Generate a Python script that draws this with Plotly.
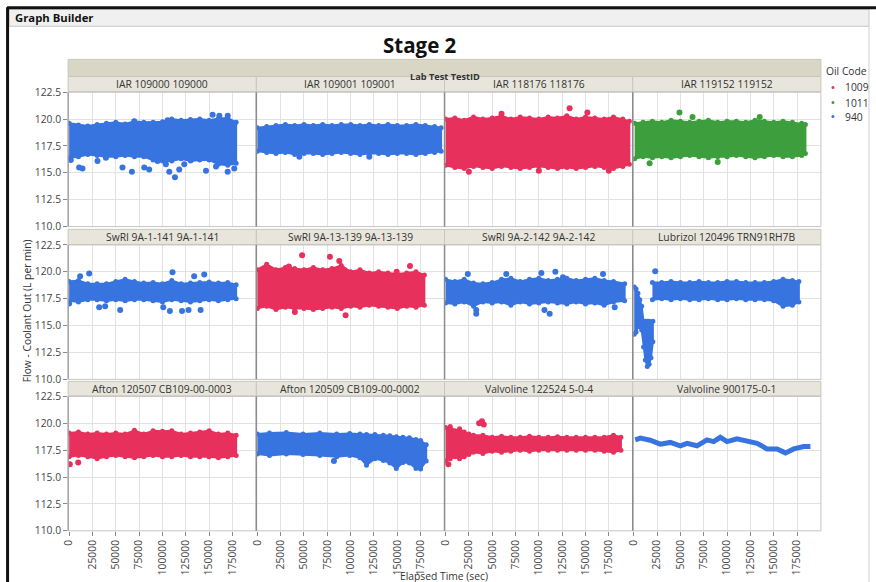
import plotly.graph_objects as go

# Measured behaviour of the viewer: the page has an 8px body margin and the
# captured 884x598 page area is scaled into the 876x582 picture.  The figure is
# sized to fill that area and reference pixel positions are mapped into it.
PAGE_W, PAGE_H = 876, 582
CAP_W, CAP_H = 884, 598
OFF = 8
W, H = CAP_W - OFF, CAP_H - OFF
SX, SY = CAP_W / PAGE_W, CAP_H / PAGE_H
BLUE = "#3874e0"
RED = "#e8305c"
GREEN = "#3d9e3d"
FONT = "Open Sans"

# ---------------- data ----------------
oil_codes = ["1009", "1011", "940"]
oil_colors = [RED, GREEN, BLUE]

panel_titles = [
    "IAR 109000 109000", "IAR 109001 109001", "IAR 118176 118176", "IAR 119152 119152",
    "SwRI 9A-1-141 9A-1-141", "SwRI 9A-13-139 9A-13-139", "SwRI 9A-2-142 9A-2-142", "Lubrizol 120496 TRN91RH7B",
    "Afton 120507 CB109-00-0003", "Afton 120509 CB109-00-0002", "Valvoline 122524 5-0-4", "Valvoline 900175-0-1",
]
panel_oil = ["940", "940", "1009", "1011",
             "940", "1009", "940", "940",
             "1009", "940", "1009", "940"]

y_ticks = [110.0, 112.5, 115.0, 117.5, 120.0, 122.5]
x_ticks = [0, 25000, 50000, 75000, 100000, 125000, 150000, 175000]

# IAR 109000 (band envelope + scattered points)
iar109000_t = [0, 10000, 20000, 30000, 40000, 50000, 60000, 70000, 80000, 90000, 100000, 110000, 120000, 130000, 140000, 150000, 160000, 170000, 179000]
iar109000_hi = [119.6, 119.45, 119.35, 119.5, 119.6, 119.7, 119.55, 119.8, 119.7, 119.7, 119.75, 120.0, 119.9, 119.95, 120.0, 119.9, 120.05, 120.1, 119.7]
iar109000_lo = [116.4, 116.5, 116.7, 116.6, 116.5, 116.5, 116.6, 116.5, 116.5, 116.2, 116.1, 116.1, 116.3, 116.1, 116.2, 116.2, 115.8, 115.7, 115.9]
iar109000_pt_t = [1800, 10700, 14300, 30400, 39400, 57200, 67300, 80500, 85800, 94800, 103700, 107300, 113400, 118000, 123400, 130600, 146700, 157400, 169900, 177000, 153800, 161000, 170000, 105500, 69700]
iar109000_pt_y = [116.2, 115.5, 115.4, 116.1, 116.4, 115.5, 115.1, 115.5, 115.3, 116.1, 115.8, 115.1, 114.6, 115.3, 115.8, 116.2, 115.2, 115.6, 115.1, 115.4, 120.4, 120.3, 120.3, 119.9, 119.8]

# IAR 109001
iar109001_t = [0, 10000, 20000, 30000, 40000, 50000, 60000, 70000, 80000, 90000, 100000, 110000, 120000, 130000, 140000, 150000, 160000, 170000, 180000, 190000, 197000]
iar109001_hi = [119.2, 119.3, 119.4, 119.5, 119.4, 119.5, 119.4, 119.5, 119.4, 119.5, 119.5, 119.4, 119.5, 119.4, 119.5, 119.4, 119.4, 119.5, 119.4, 119.3, 119.2]
iar109001_lo = [117.0, 116.9, 116.8, 116.9, 116.7, 116.8, 116.8, 116.7, 116.8, 116.9, 116.8, 116.7, 116.8, 116.8, 116.7, 116.8, 116.8, 116.7, 116.8, 116.9, 117.0]
iar109001_pt_t = [45000, 120000]
iar109001_pt_y = [116.5, 116.5]

# IAR 118176
iar118176_t = [0, 10000, 20000, 30000, 40000, 50000, 60000, 70000, 80000, 90000, 100000, 110000, 120000, 130000, 140000, 150000, 160000, 170000, 180000, 190000, 197000]
iar118176_hi = [120.0, 120.1, 119.9, 120.2, 120.0, 120.1, 120.3, 120.0, 120.2, 120.1, 120.0, 120.2, 120.1, 120.3, 120.0, 120.2, 120.1, 120.0, 120.2, 120.0, 119.8]
iar118176_lo = [115.7, 115.5, 115.4, 115.6, 115.5, 115.4, 115.6, 115.5, 115.4, 115.5, 115.6, 115.5, 115.4, 115.5, 115.4, 115.5, 115.6, 115.5, 115.4, 115.6, 115.8]
iar118176_pt_t = [133000, 152000, 60000, 25000, 100000, 175000]
iar118176_pt_y = [121.0, 120.6, 120.5, 115.1, 115.2, 115.2]

# IAR 119152
iar119152_t = [1000, 10000, 20000, 30000, 40000, 50000, 60000, 70000, 80000, 90000, 100000, 110000, 120000, 130000, 140000, 150000, 160000, 170000, 180000, 184000]
iar119152_hi = [119.6, 119.7, 119.8, 119.7, 119.9, 119.8, 119.7, 119.8, 119.9, 119.7, 119.8, 119.8, 119.7, 119.9, 119.8, 119.7, 119.8, 119.7, 119.6, 119.5]
iar119152_lo = [116.3, 116.5, 116.4, 116.5, 116.4, 116.5, 116.6, 116.5, 116.4, 116.5, 116.5, 116.6, 116.5, 116.4, 116.5, 116.6, 116.5, 116.5, 116.6, 116.8]
iar119152_pt_t = [49000, 63000, 135000, 17000, 90000]
iar119152_pt_y = [120.6, 120.2, 120.2, 115.9, 116.0]

# SwRI 9A-1-141
swri141_t = [0, 10000, 20000, 30000, 40000, 50000, 60000, 70000, 80000, 90000, 100000, 110000, 120000, 130000, 140000, 150000, 160000, 170000, 179000]
swri141_hi = [119.1, 119.2, 118.9, 118.9, 118.9, 119.1, 119.3, 119.1, 118.95, 119.0, 118.9, 119.2, 118.9, 118.95, 119.0, 119.05, 118.95, 119.0, 118.8]
swri141_lo = [117.3, 117.2, 117.4, 117.4, 117.3, 117.4, 117.3, 117.4, 117.4, 117.3, 117.2, 117.4, 117.3, 117.2, 117.3, 117.4, 117.3, 117.4, 117.5]
swri141_pt_t = [11800, 21500, 110800, 134000, 144800, 0, 32200, 38600, 54700, 100900, 108000, 121000, 128000, 140900]
swri141_pt_y = [119.6, 119.85, 119.95, 119.6, 119.75, 117.05, 116.7, 116.8, 116.45, 116.7, 116.35, 116.35, 116.45, 116.45]

# SwRI 9A-13-139
swri139_t = [0, 10000, 20000, 30000, 40000, 50000, 60000, 70000, 80000, 90000, 100000, 110000, 120000, 130000, 140000, 150000, 160000, 170000, 179000]
swri139_hi = [120.2, 120.7, 120.2, 120.4, 120.3, 120.2, 120.4, 120.2, 120.3, 120.6, 120.0, 120.2, 119.9, 120.0, 119.9, 119.8, 119.9, 120.0, 119.7]
swri139_lo = [116.6, 116.8, 116.5, 116.7, 116.6, 116.6, 116.5, 116.6, 116.7, 116.6, 116.8, 116.7, 116.9, 116.8, 116.7, 116.6, 116.8, 116.7, 116.9]
swri139_pt_t = [48000, 77800, 87800, 163600, 149300, 33800, 40200, 94600]
swri139_pt_y = [121.55, 121.4, 121.0, 120.55, 120.0, 120.5, 116.27, 115.97]

# SwRI 9A-2-142
swri142_t = [0, 10000, 20000, 30000, 40000, 50000, 60000, 70000, 80000, 90000, 100000, 110000, 120000, 130000, 140000, 150000, 160000, 170000, 180000, 192000]
swri142_hi = [119.3, 119.1, 119.3, 118.95, 118.9, 119.0, 119.3, 119.4, 119.1, 119.3, 119.4, 119.2, 119.3, 119.4, 119.2, 119.3, 119.4, 119.2, 119.1, 118.9]
swri142_lo = [117.1, 117.0, 117.2, 116.8, 117.2, 117.1, 117.2, 116.9, 117.2, 117.0, 117.1, 117.2, 117.1, 117.0, 117.2, 117.0, 117.1, 116.9, 117.2, 117.3]
swri142_pt_t = [23900, 65100, 102700, 117700, 125900, 168800, 32900, 32900, 111600, 106000, 181300]
swri142_pt_y = [119.8, 119.8, 119.9, 120.0, 119.5, 119.8, 116.45, 116.1, 116.1, 116.45, 116.7]

# Lubrizol 120496 TRN91RH7B (start-up excursion + steady band)
lubrizol_start_t = [500, 2500, 4500, 6500, 8500, 10500, 12500, 14500, 16500, 18500, 20500]
lubrizol_start_hi = [118.6, 118.4, 118.0, 117.4, 116.8, 115.4, 115.4, 115.4, 115.4, 115.3, 115.4]
lubrizol_start_lo = [114.2, 114.4, 114.9, 114.9, 114.6, 113.0, 111.8, 111.2, 111.4, 112.0, 113.5]
lubrizol_t = [20000, 30000, 40000, 50000, 60000, 70000, 80000, 90000, 100000, 110000, 120000, 130000, 140000, 150000, 160000, 170000, 177000]
lubrizol_hi = [119.0, 119.0, 119.1, 119.0, 119.0, 119.1, 119.0, 119.0, 119.1, 119.1, 119.0, 119.0, 119.0, 119.1, 119.3, 119.2, 119.1]
lubrizol_lo = [117.4, 117.5, 117.4, 117.5, 117.4, 117.4, 117.5, 117.4, 117.4, 117.5, 117.4, 117.4, 117.4, 117.3, 116.8, 116.9, 117.2]
lubrizol_pt_t = [23000]
lubrizol_pt_y = [120.05]

# Afton 120507
afton507_t = [0, 10000, 20000, 30000, 40000, 50000, 60000, 70000, 80000, 90000, 100000, 110000, 120000, 130000, 140000, 150000, 160000, 170000, 179000]
afton507_hi = [119.1, 119.2, 119.0, 119.1, 119.0, 119.1, 119.0, 119.35, 119.0, 119.3, 119.25, 119.3, 119.0, 119.1, 119.2, 119.3, 119.0, 119.1, 118.9]
afton507_lo = [116.9, 117.0, 116.9, 116.7, 116.9, 117.0, 116.9, 116.8, 116.9, 117.0, 116.9, 116.9, 117.0, 116.9, 116.9, 116.9, 116.8, 116.9, 117.0]
afton507_pt_t = [700, 9700]
afton507_pt_y = [116.2, 116.35]

# Afton 120509
afton509_t = [0, 13000, 31000, 49000, 67000, 85000, 99000, 110000, 117000, 126000, 135000, 142000, 149000, 156000, 163000, 170000, 175000, 181000]
afton509_hi = [119.0, 119.1, 119.15, 119.0, 119.1, 119.0, 119.05, 119.0, 118.95, 118.95, 118.9, 118.85, 118.75, 118.7, 118.65, 118.5, 118.4, 118.0]
afton509_lo = [117.15, 117.0, 117.15, 117.1, 117.0, 116.9, 117.0, 116.8, 116.1, 116.7, 116.55, 116.3, 115.8, 116.35, 116.3, 115.8, 115.75, 116.5]
afton509_pt_t = [82100]
afton509_pt_y = [116.5]

# Valvoline 122524
valv122524_t = [0, 5000, 10000, 15000, 20000, 25000, 30000, 40000, 50000, 60000, 70000, 80000, 90000, 100000, 110000, 120000, 130000, 140000, 150000, 160000, 170000, 180000, 188000]
valv122524_hi = [119.6, 119.7, 119.3, 119.5, 119.2, 119.0, 118.9, 118.9, 118.7, 118.8, 118.7, 118.7, 118.8, 118.7, 118.7, 118.75, 118.7, 118.7, 118.7, 118.7, 118.7, 118.9, 118.7]
valv122524_lo = [116.5, 116.7, 116.9, 116.7, 116.9, 117.1, 117.3, 117.2, 117.4, 117.3, 117.4, 117.5, 117.4, 117.5, 117.5, 117.5, 117.5, 117.5, 117.5, 117.5, 117.4, 117.3, 117.5]
valv122524_pt_t = [39000, 41000, 36000, 3000]
valv122524_pt_y = [120.2, 119.9, 120.0, 116.2]

# Valvoline 900175 (smooth trace)
valv900175_t = [1600, 7000, 17700, 28400, 39200, 49900, 57100, 67800, 78500, 85600, 92800, 100000, 110700, 121400, 132200, 142900, 153600, 162600, 171500, 182200, 189400]
valv900175_y = [118.47, 118.62, 118.43, 118.06, 118.22, 117.91, 118.13, 117.91, 118.46, 118.3, 118.7, 118.3, 118.55, 118.33, 118.13, 117.62, 117.62, 117.25, 117.62, 117.84, 117.84]

bands = [
    [(iar109000_t, iar109000_hi, iar109000_lo)],
    [(iar109001_t, iar109001_hi, iar109001_lo)],
    [(iar118176_t, iar118176_hi, iar118176_lo)],
    [(iar119152_t, iar119152_hi, iar119152_lo)],
    [(swri141_t, swri141_hi, swri141_lo)],
    [(swri139_t, swri139_hi, swri139_lo)],
    [(swri142_t, swri142_hi, swri142_lo)],
    [(lubrizol_start_t, lubrizol_start_hi, lubrizol_start_lo), (lubrizol_t, lubrizol_hi, lubrizol_lo)],
    [(afton507_t, afton507_hi, afton507_lo)],
    [(afton509_t, afton509_hi, afton509_lo)],
    [(valv122524_t, valv122524_hi, valv122524_lo)],
    [],
]
points = [
    (iar109000_pt_t, iar109000_pt_y), (iar109001_pt_t, iar109001_pt_y),
    (iar118176_pt_t, iar118176_pt_y), (iar119152_pt_t, iar119152_pt_y),
    (swri141_pt_t, swri141_pt_y), (swri139_pt_t, swri139_pt_y),
    (swri142_pt_t, swri142_pt_y), (lubrizol_pt_t, lubrizol_pt_y),
    (afton507_pt_t, afton507_pt_y), (afton509_pt_t, afton509_pt_y),
    (valv122524_pt_t, valv122524_pt_y), ([], []),
]

# ---------------- layout geometry (reference pixels) ----------------
col_l = [69, 257, 445, 633]
col_r = [257, 445, 633, 821]
row_t = [92.7, 245, 396]
row_b = [226.7, 379, 530]
strip_t = [77, 229.5, 381]
XPX = 25000 / 23.3  # seconds per reference pixel


def px(xp):
    return (xp * SX - OFF) / W


def py(yp):
    return 1 - (yp * SY - OFF) / H


def fs(size):
    return round(size * SY, 1)


color_of = dict(zip(oil_codes, oil_colors))

fig = go.Figure()
layout = dict(
    width=W, height=H, margin=dict(l=0, r=0, t=0, b=0), autosize=False,
    paper_bgcolor="white", plot_bgcolor="white", showlegend=False,
    font=dict(family=FONT, size=fs(10), color="#333333"),
)
shapes = []
annotations = []

for i in range(12):
    r, c = divmod(i, 4)
    k = i + 1
    xa = "xaxis" if k == 1 else f"xaxis{k}"
    ya = "yaxis" if k == 1 else f"yaxis{k}"
    xref = "x" if k == 1 else f"x{k}"
    yref = "y" if k == 1 else f"y{k}"
    width_px = col_r[c] - col_l[c]
    layout[xa] = dict(
        domain=[px(col_l[c]), px(col_r[c])], anchor=yref,
        range=[-1 * XPX, (width_px - 1) * XPX],
        tickmode="array", tickvals=x_ticks,
        ticktext=[str(v) for v in x_ticks] if r == 2 else [""] * len(x_ticks),
        showticklabels=(r == 2), tickangle=-90,
        ticks="outside" if r == 2 else "", ticklen=4, tickcolor="#888888",
        showgrid=True, gridcolor="#e2e2e2", gridwidth=1, zeroline=False,
        showline=False, tickfont=dict(size=fs(10), color="#444444", family=FONT),
    )
    layout[ya] = dict(
        domain=[py(row_b[r]), py(row_t[r])], anchor=xref,
        range=[110, 122.5], tickmode="array", tickvals=y_ticks,
        ticktext=[f"{v:.1f}" for v in y_ticks],
        showticklabels=(c == 0), ticks="outside" if c == 0 else "",
        ticklen=4, tickcolor="#888888",
        showgrid=True, gridcolor="#e2e2e2", gridwidth=1, zeroline=False,
        showline=False, tickfont=dict(size=fs(10), color="#444444", family=FONT),
    )
    col = color_of[panel_oil[i]]
    for (t, hi, lo) in bands[i]:
        fig.add_trace(go.Scatter(
            x=list(t) + list(t)[::-1], y=list(hi) + list(lo)[::-1],
            mode="lines+markers", fill="toself", fillcolor=col,
            line=dict(color=col, width=2),
            marker=dict(color=col, size=5, line=dict(width=0)),
            xaxis=xref, yaxis=yref, hoverinfo="skip"))
    pt_t, pt_y = points[i]
    if pt_t:
        fig.add_trace(go.Scatter(
            x=pt_t, y=pt_y, mode="markers",
            marker=dict(color=col, size=6, line=dict(width=0)),
            xaxis=xref, yaxis=yref, hoverinfo="skip"))
    if i == 11:
        fig.add_trace(go.Scatter(
            x=valv900175_t, y=valv900175_y, mode="lines",
            line=dict(color=col, width=5), xaxis=xref, yaxis=yref,
            hoverinfo="skip"))

    # panel frame
    shapes.append(dict(type="rect", xref="paper", yref="paper",
                       x0=px(col_l[c]), x1=px(col_r[c]), y0=py(row_b[r]), y1=py(row_t[r]),
                       line=dict(color="#c4c4c4", width=1), fillcolor="rgba(0,0,0,0)", layer="above"))
    # strip header
    shapes.append(dict(type="rect", xref="paper", yref="paper",
                       x0=px(col_l[c]), x1=px(col_r[c]), y0=py(row_t[r] - 0.5), y1=py(strip_t[r]),
                       line=dict(color="#c8c6bc", width=1), fillcolor="#e8e6dc", layer="below"))
    annotations.append(dict(text=panel_titles[i], xref="paper", yref="paper",
                            x=px((col_l[c] + col_r[c]) / 2), y=py((strip_t[r] + row_t[r]) / 2),
                            showarrow=False, xanchor="center", yanchor="middle",
                            font=dict(size=fs(10), color="#333333", family=FONT)))

# darker column dividers
for c in (1, 2, 3):
    for r in range(3):
        shapes.append(dict(type="line", xref="paper", yref="paper",
                           x0=px(col_l[c]), x1=px(col_l[c]), y0=py(row_b[r]), y1=py(row_t[r]),
                           line=dict(color="#8c8c8c", width=1.5), layer="above"))
# left axis line
for r in range(3):
    shapes.append(dict(type="line", xref="paper", yref="paper",
                       x0=px(col_l[0]), x1=px(col_l[0]), y0=py(row_b[r]), y1=py(row_t[r]),
                       line=dict(color="#8c8c8c", width=1), layer="above"))

# Lab Test TestID band
shapes.append(dict(type="rect", xref="paper", yref="paper",
                   x0=px(69), x1=px(821), y0=py(77), y1=py(60),
                   line=dict(color="#c8c6bc", width=1), fillcolor="#d9d6c6", layer="below"))
annotations.append(dict(text="<b>Lab Test TestID</b>", xref="paper", yref="paper",
                        x=px(445), y=py(68.5), showarrow=False,
                        font=dict(size=fs(9), color="#333333", family=FONT)))

# window chrome: Graph Builder bar + frame
shapes.append(dict(type="rect", xref="paper", yref="paper",
                   x0=px(10), x1=px(869), y0=py(27), y1=py(10),
                   line=dict(color="#c8c8c8", width=1), fillcolor="#f0f0f0", layer="below"))
shapes.append(dict(type="line", xref="paper", yref="paper",
                   x0=px(8), x1=px(876), y0=py(8.5), y1=py(8.5),
                   line=dict(color="#111111", width=3)))
shapes.append(dict(type="line", xref="paper", yref="paper",
                   x0=px(8.5), x1=px(8.5), y0=py(8), y1=py(582),
                   line=dict(color="#111111", width=3)))
shapes.append(dict(type="line", xref="paper", yref="paper",
                   x0=px(869), x1=px(869), y0=py(27), y1=py(582),
                   line=dict(color="#d0d0d0", width=1)))
annotations.append(dict(text="<b>Graph Builder</b>", xref="paper", yref="paper",
                        x=px(14), y=py(18.5), xanchor="left", yanchor="middle", showarrow=False,
                        font=dict(size=fs(11), color="#111111", family=FONT)))

# title
annotations.append(dict(text="<b>Stage 2</b>", xref="paper", yref="paper",
                        x=px(420), y=py(46), xanchor="center", yanchor="middle", showarrow=False,
                        font=dict(size=fs(20), color="#111111", family=FONT)))

# axis titles
annotations.append(dict(text="Elapsed Time (sec)", xref="paper", yref="paper",
                        x=px(444), y=py(575), xanchor="center", yanchor="middle", showarrow=False,
                        font=dict(size=fs(10), color="#333333", family=FONT)))
annotations.append(dict(text="Flow - Coolant Out (L per min)", xref="paper", yref="paper",
                        x=px(28), y=py(311), xanchor="center", yanchor="middle", showarrow=False,
                        textangle=-90, font=dict(size=fs(10), color="#333333", family=FONT)))

# legend
annotations.append(dict(text="Oil Code", xref="paper", yref="paper",
                        x=px(824), y=py(72), xanchor="left", yanchor="middle", showarrow=False,
                        font=dict(size=fs(10), color="#333333", family=FONT)))
leg_y = [88, 103, 117]
for code, colr, ly in zip(oil_codes, oil_colors, leg_y):
    shapes.append(dict(type="circle", xref="paper", yref="paper",
                       x0=px(831.5), x1=px(834.5), y0=py(ly + 1.5), y1=py(ly - 1.5),
                       fillcolor=colr, line=dict(color=colr, width=0)))
    annotations.append(dict(text=code, xref="paper", yref="paper",
                            x=px(843), y=py(ly), xanchor="left", yanchor="middle", showarrow=False,
                            font=dict(size=fs(10), color="#333333", family=FONT)))

layout["shapes"] = shapes
layout["annotations"] = annotations
fig.update_layout(**layout)
fig.write_html("out.html")
